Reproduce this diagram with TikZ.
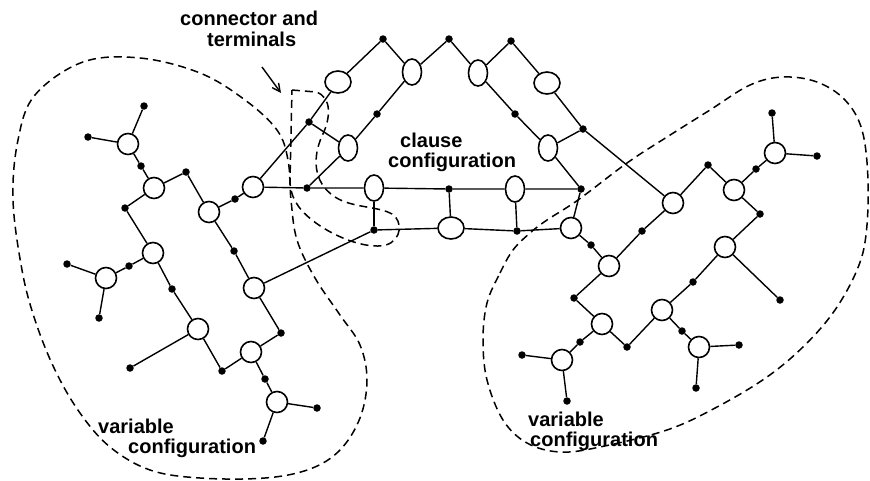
\documentclass[tikz,border=0pt]{standalone}
\usepackage{fontspec}
\setmainfont{Liberation Sans}
\usetikzlibrary{shapes.geometric,arrows.meta}
\begin{document}
\begin{tikzpicture}[x=1pt,y=-1pt,
  dt/.style={circle,fill=black,inner sep=0pt,minimum size=7.5pt},
  vc/.style={circle,draw,line width=1.6pt,inner sep=0pt,minimum size=21pt},
  ev/.style={ellipse,draw,line width=1.6pt,inner sep=0pt,minimum width=19pt,minimum height=26pt},
  eh/.style={ellipse,draw,line width=1.6pt,inner sep=0pt,minimum width=26pt,minimum height=22pt},
  ln/.style={line width=1.4pt},
  bnd/.style={line width=1.5pt,dash pattern=on 8pt off 5pt},
  lbl/.style={anchor=base west,inner sep=0pt,font=\fontsize{20}{20}\selectfont\bfseries}]
\useasboundingbox (0,0) rectangle (870,480);

% ---------- left variable configuration ----------
\node[dt] (l1) at (144,106) {};
\node[dt] (l2) at (88,137) {};
\node[vc] (A1) at (128,144) {};
\node[dt] (l3) at (141,166) {};
\node[vc] (A2) at (154,188) {};
\node[dt] (l4) at (186,172) {};
\node[dt] (l5) at (125,208) {};
\node[vc] (A3) at (209,212) {};
\node[dt] (l6) at (235,199) {};
\node[vc] (A4) at (253,187) {};
\node[dt] (l7) at (234,251) {};
\node[vc] (A5) at (153,253) {};
\node[dt] (l8) at (129,266) {};
\node[vc] (A6) at (106,278) {};
\node[dt] (l9) at (67,264) {};
\node[dt] (l10) at (99,318) {};
\node[dt] (l11) at (172,289) {};
\node[vc] (A7) at (198,329) {};
\node[dt] (l12) at (130,368) {};
\node[dt] (l13) at (222,371) {};
\node[vc] (A8) at (254,288) {};
\node[dt] (l14) at (281,333) {};
\node[vc] (A9) at (251,352) {};
\node[dt] (l15) at (265,379) {};
\node[vc] (A10) at (277,402) {};
\node[dt] (l16) at (317,408) {};
\node[dt] (l17) at (263,441) {};

% ---------- clause configuration ----------
\node[dt] (c1) at (309,122) {};
\node[eh] (E1) at (338,82) {};
\node[dt] (c2) at (383,39) {};
\node[ev] (E3) at (412,72) {};
\node[dt] (c3) at (449,39) {};
\node[ev] (E5) at (478,73) {};
\node[dt] (c4) at (511,41) {};
\node[eh] (E6) at (547,83) {};
\node[dt] (c5) at (583,129) {};
\node[dt] (c6) at (307,188) {};
\node[ev] (E2) at (348,148) {};
\node[dt] (c7) at (377,114) {};
\node[dt] (c8) at (515,114) {};
\node[ev] (E7) at (548,148) {};
\node[dt] (c9) at (581,189) {};
\node[ev] (E8) at (374,188) {};
\node[dt] (c10) at (449,189) {};
\node[ev] (E9) at (515,189) {};
\node[dt] (c11) at (374,230) {};
\node[eh] (E10) at (451,228) {};
\node[dt] (c12) at (517,231) {};

% ---------- right variable configuration ----------
\node[vc] (C) at (571,228) {};
\node[vc] (B1) at (609,266) {};
\node[vc] (B2) at (673,203) {};
\node[vc] (B3) at (734,190) {};
\node[vc] (B4) at (725,247) {};
\node[vc] (B5) at (662,310) {};
\node[vc] (B6) at (699,347) {};
\node[vc] (B7) at (602,324) {};
\node[vc] (B8) at (562,360) {};
\node[vc] (B9) at (775,153) {};
\node[dt] (r1) at (591,245) {};
\node[dt] (r2) at (642,231) {};
\node[dt] (r3) at (708,165) {};
\node[dt] (r4) at (756,169) {};
\node[dt] (r5) at (772,113) {};
\node[dt] (r6) at (817,156) {};
\node[dt] (r7) at (760,214) {};
\node[dt] (r8) at (780,300) {};
\node[dt] (r9) at (693,282) {};
\node[dt] (r10) at (682,331) {};
\node[dt] (r11) at (739,345) {};
\node[dt] (r12) at (696,388) {};
\node[dt] (r13) at (627,347) {};
\node[dt] (r14) at (574,298) {};
\node[dt] (r15) at (580,342) {};
\node[dt] (r16) at (522,355) {};
\node[dt] (r17) at (567,401) {};

% ---------- connectors: left ----------
\draw[ln] (l1) -- (A1);
\draw[ln] (l2) -- (A1);
\draw[ln] (A1) -- (l3) -- (A2);
\draw[ln] (A2) -- (l4) -- (A3);
\draw[ln] (A2) -- (l5) -- (A5);
\draw[ln] (A3) -- (l6) -- (A4);
\draw[ln] (A3) -- (l7) -- (A8);
\draw[ln] (A5) -- (l8) -- (A6);
\draw[ln] (A6) -- (l9);
\draw[ln] (A6) -- (l10);
\draw[ln] (A5) -- (l11) -- (A7);
\draw[ln] (A7) -- (l12);
\draw[ln] (A7) -- (l13) -- (A9);
\draw[ln] (A8) -- (l14) -- (A9);
\draw[ln] (A9) -- (l15) -- (A10);
\draw[ln] (A10) -- (l16);
\draw[ln] (A10) -- (l17);
\draw[ln] (A8) -- (c11);
\draw[ln] (A4) -- (c6);
\draw[ln] (A4) -- (c1);

% ---------- connectors: clause ----------
\draw[ln] (c1) -- (E1) -- (c2) -- (E3) -- (c3) -- (E5) -- (c4) -- (E6) -- (c5) -- (B2);
\draw[ln] (c1) -- (E2);
\draw[ln] (c6) -- (E2) -- (c7) -- (E3);
\draw[ln] (E5) -- (c8) -- (E7) -- (c9);
\draw[ln] (E7) -- (c5);
\draw[ln] (c6) -- (E8) -- (c10) -- (E9) -- (c9);
\draw[ln] (E8) -- (c11);
\draw[ln] (c10) -- (E10);
\draw[ln] (E9) -- (c12);
\draw[ln] (c9) -- (C);
\draw[ln] (c11) -- (E10) -- (c12) -- (C);

% ---------- connectors: right ----------
\draw[ln] (C) -- (r1) -- (B1);
\draw[ln] (B1) -- (r2) -- (B2);
\draw[ln] (B2) -- (r3) -- (B3);
\draw[ln] (B3) -- (r4) -- (B9);
\draw[ln] (B9) -- (r5);
\draw[ln] (B9) -- (r6);
\draw[ln] (B3) -- (r7) -- (B4);
\draw[ln] (B4) -- (r8);
\draw[ln] (B4) -- (r9) -- (B5);
\draw[ln] (B5) -- (r10) -- (B6);
\draw[ln] (B6) -- (r11);
\draw[ln] (B6) -- (r12);
\draw[ln] (B5) -- (r13) -- (B7);
\draw[ln] (B1) -- (r14) -- (B7);
\draw[ln] (B7) -- (r15) -- (B8);
\draw[ln] (B8) -- (r16);
\draw[ln] (B8) -- (r17);

% ---------- dashed boundaries ----------
\draw[bnd] plot[smooth cycle, tension=0.6] coordinates {
  (83,62) (140,58) (200,73) (245,100) (277,130) (288,160) (291,200) (297,240)
  (315,278) (340,315) (360,345) (367,380) (360,418) (340,450) (310,469)
  (265,478) (200,478) (150,470) (110,447) (80,413) (55,370) (35,320)
  (22,270) (13,200) (18,140) (35,95)};

\draw[bnd] plot[smooth cycle, tension=0.6] coordinates {
  (487,303) (500,273) (513,250) (530,233) (547,220) (578,200) (627,163)
  (667,137) (710,110) (750,85) (783,77) (817,82) (845,100) (862,130)
  (868,180) (866,235) (857,270) (835,310) (805,345) (767,377) (717,407)
  (667,430) (600,447) (560,452) (527,443) (503,420) (487,380) (483,340)};

\draw[bnd] (292,90) -- (316,92) .. controls (332,97) and (331,118) .. (322,136)
  .. controls (313,156) and (312,182) .. (335,197)
  .. controls (352,208) and (378,206) .. (392,214)
  .. controls (403,221) and (402,240) .. (386,245)
  .. controls (366,250) and (332,236) .. (312,220)
  .. controls (297,208) and (290,196) .. (290,180) -- cycle;

% ---------- labels ----------
\node[lbl] (t1) at (180,25) {connector and};
\node[lbl] (t2) at (207,46) {terminals};
\node[lbl] (t3) at (400,147) {clause};
\node[lbl] (t4) at (388,167) {configuration};
\node[lbl] (t5) at (98,433) {variable};
\node[lbl] (t6) at (128,453) {configuration};
\node[lbl] (t7) at (528,426) {variable};
\node[lbl] (t8) at (530,446) {configuration};

\coordinate (ar1) at (262,67);
\coordinate (ar2) at (281,93);
\draw[ln,-{Straight Barb[length=8pt,width=8pt]}] (ar1) -- (ar2);
\end{tikzpicture}
\end{document}
